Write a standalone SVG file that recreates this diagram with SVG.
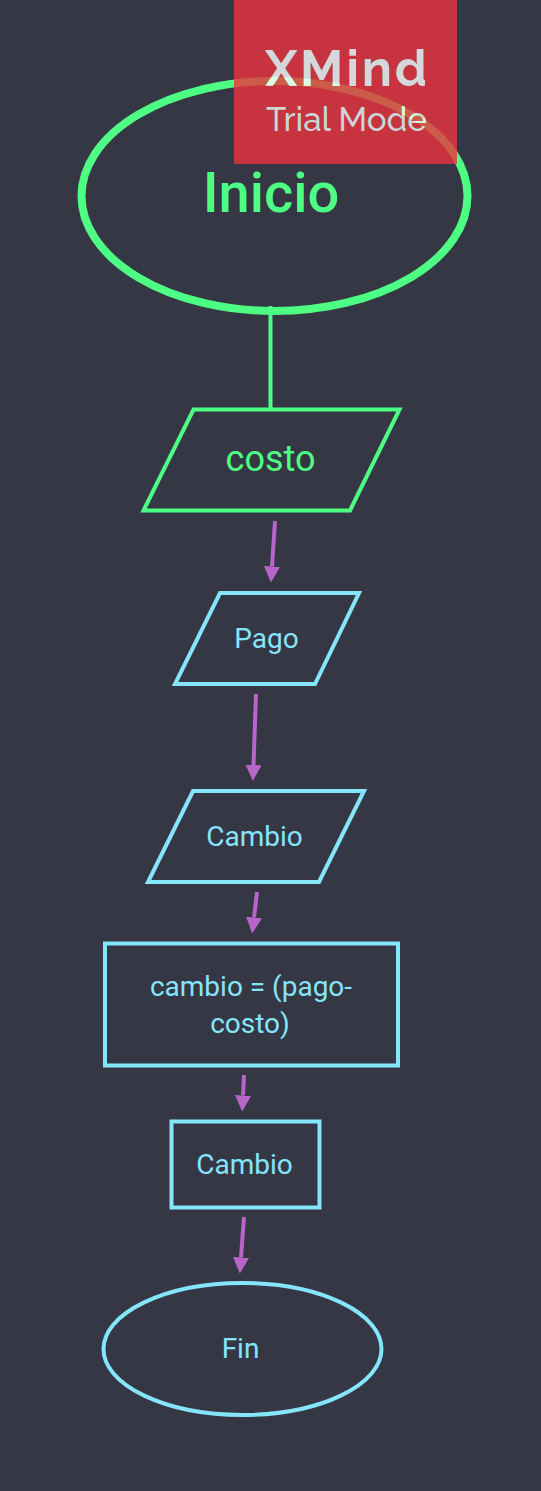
<svg xmlns="http://www.w3.org/2000/svg" width="541" height="1491" viewBox="0 0 541 1491">
<style>
.s{fill:none;stroke:#85e5fb;stroke-width:4}
.g{fill:none;stroke:#4dff82}
.t{font-family:Roboto,"Liberation Sans",sans-serif;text-anchor:middle;fill:#85e5fb;font-size:28px}
.c{fill:none;stroke:#b865c9;stroke-width:4}
.w1{font-family:Raleway,Lato,"Open Sans",sans-serif;font-size:50px;font-weight:700;letter-spacing:2.8px}
.w2{font-family:Raleway,Lato,"Open Sans",sans-serif;font-size:33px;font-weight:500}
</style>
<defs>
<marker id="a" markerUnits="userSpaceOnUse" markerWidth="18" markerHeight="18" refX="0" refY="8" orient="auto"><path d="M0 0L16 8L0 16Z" fill="#b865c9"/></marker>
<mask id="m" maskUnits="userSpaceOnUse" x="0" y="0" width="541" height="200">
<rect width="541" height="200" fill="#fff"/>
<text class="w1" x="265" y="86" fill="#000">XMind</text>
<text class="w2" x="266" y="131" fill="#000">Trial Mode</text>
</mask>
</defs>
<rect width="541" height="1491" fill="#363745"/>
<g id="connectors">
<path d="M270.500 306V409" fill="none" stroke="#4dff82" stroke-width="4"/>
<path class="c" d="M275 521L272 566.500" marker-end="url(#a)"/>
<path class="c" d="M256 694L253.500 765" marker-end="url(#a)"/>
<path class="c" d="M257 892L254 917.500" marker-end="url(#a)"/>
<path class="c" d="M244 1075L243 1095.500" marker-end="url(#a)"/>
<path class="c" d="M244 1217L241 1257.500" marker-end="url(#a)"/>
</g>
<g id="inicio"><ellipse class="g" stroke-width="8" cx="274.500" cy="196" rx="193" ry="115"/><text class="t" x="271" y="212" style="font-size:56px;font-weight:500;fill:#4dff82">Inicio</text></g>
<g id="costo"><path class="g" stroke-width="4" d="M193.500 409.500H399.500L350 510.500H143.500Z"/><text class="t" x="270.500" y="471" style="font-size:36px;fill:#4dff82">costo</text></g>
<g id="pago"><path class="s" d="M220 593H359L315 684H175Z"/><text class="t" x="266.500" y="648">Pago</text></g>
<g id="cambio1"><path class="s" d="M193 791H364L319 882H148Z"/><text class="t" x="254.500" y="846">Cambio</text></g>
<g id="calc"><rect class="s" x="105" y="943.500" width="293" height="122"/><text class="t" x="251" y="996">cambio = (pago-</text><text class="t" x="250" y="1033">costo)</text></g>
<g id="cambio2"><rect class="s" x="171.500" y="1121.500" width="148" height="86"/><text class="t" x="244.500" y="1174">Cambio</text></g>
<g id="fin"><ellipse class="s" cx="242.500" cy="1349" rx="139" ry="66"/><text class="t" x="240.500" y="1358">Fin</text></g>
<g id="watermark">
<path d="M234 0H457V164H236Q234 164 234 162Z" fill="#ec323c" fill-opacity=".8" mask="url(#m)"/>
<text class="w1" x="265" y="86" fill="#fff" fill-opacity=".8">XMind</text>
<text class="w2" x="266" y="131" fill="#fff" fill-opacity=".8">Trial Mode</text>
</g>
</svg>
